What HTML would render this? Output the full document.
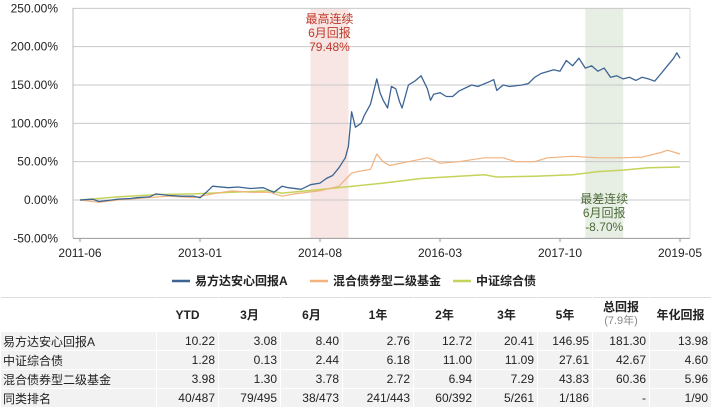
<!DOCTYPE html>
<html><head><meta charset="utf-8"><style>
body{margin:0;width:711px;height:415px;background:#fff;font-family:"Liberation Sans","Noto Sans CJK SC",sans-serif;overflow:hidden;position:relative}
svg text{font-family:"Liberation Sans","Noto Sans CJK SC",sans-serif}
table{position:absolute;left:0;top:297px;width:711px;border-collapse:collapse;font-size:12px;color:#222;table-layout:fixed}
td,th{border:1px solid #fff;padding:0 3px;text-align:right;height:18px;white-space:nowrap;overflow:hidden}
th{height:33px;text-align:center;font-weight:bold;background:#fff;border-left:1px solid #e4e4e4;border-top:1px solid #ddd;padding:0}
tr.r td{background:#f2f2f2}
td.l{text-align:left;padding-left:2px}
</style></head><body>
<svg id="chart" width="711" height="297" style="position:absolute;left:0;top:0"></svg>
<table>
<colgroup><col style="width:156px"><col style="width:62px"><col style="width:62px"><col style="width:62px"><col style="width:71px"><col style="width:62px"><col style="width:62px"><col style="width:55px"><col style="width:57px"><col style="width:62px"></colgroup>
<tr><th style="border-left:none"></th><th>YTD</th><th>3月</th><th>6月</th><th>1年</th><th>2年</th><th>3年</th><th>5年</th><th style="line-height:13px">总回报<br><span style="font-weight:normal;color:#888;font-size:11px">(7.9年)</span></th><th>年化回报</th></tr>
<tr class="r"><td class="l">易方达安心回报A</td><td>10.22</td><td>3.08</td><td>8.40</td><td>2.76</td><td>12.72</td><td>20.41</td><td>146.95</td><td>181.30</td><td>13.98</td></tr>
<tr class="r"><td class="l">中证综合债</td><td>1.28</td><td>0.13</td><td>2.44</td><td>6.18</td><td>11.00</td><td>11.09</td><td>27.61</td><td>42.67</td><td>4.60</td></tr>
<tr class="r"><td class="l">混合债券型二级基金</td><td>3.98</td><td>1.30</td><td>3.78</td><td>2.72</td><td>6.94</td><td>7.29</td><td>43.83</td><td>60.36</td><td>5.96</td></tr>
<tr class="r"><td class="l">同类排名</td><td>40/487</td><td>79/495</td><td>38/473</td><td>241/443</td><td>60/392</td><td>5/261</td><td>1/186</td><td>-</td><td>1/90</td></tr>
</table>
<script>
const yTicks=[250,200,150,100,50,0,-50];
const xTickLabels=["2011-06","2013-01","2014-08","2016-03","2017-10","2019-05"];
const xTickMonths=[0,19,38,57,76,95];
const fundMonths=[0,2,3,5,6,8,9,11,12,14,16,18,19,20,21,23.5,25,27,29,30.7,32,33,35,36.5,38,39,40,41,42,42.5,43,43.6,44.5,45,46,47,47.5,48,48.7,49.3,50,50.6,51,52,53,54,55,55.5,56,57,58,59,60,62,63,65,65.5,66,67,68,70,71,72,73,75,76,77,78,79,80,81,82,83,84,85,86,87,88,89,90,91,92,93,94,94.5,95];
const fundVals=[0,1,-2,0,1,2,3,4,8,6,5,5,3,10,18,16,17,15,16,10,18,16,14,20,22,28,32,42,55,70,115,95,100,110,125,158,140,130,120,148,145,128,120,150,155,162,145,130,138,140,135,135,142,150,148,155,157,143,150,148,150,152,160,165,170,168,182,175,185,172,175,168,172,160,162,158,160,156,160,158,155,165,175,185,192,185,180];
const peerMonths=[0,3,6,9,14,18,21,24,27,30,32,34,38,41,43,44,46,47,48,49,52,55,56,57,60,64,67,69,72,74,78,82,86,89,92,93,95];
const peerVals=[0,-3,0,2,5,3,8,12,10,10,5,8,12,18,35,37,40,60,50,45,50,55,52,48,50,55,55,50,50,55,57,55,55,56,62,65,60];
const idxMonths=[0,6,12,18,24,30,32,36,42,48,54,58,64,66,72,78,82,86,90,95];
const idxVals=[0,4,7,8,10,12,9,12,17,22,28,30,33,30,31,33,37,39,42,43];
const NS="http://www.w3.org/2000/svg";
const svg=document.getElementById('chart');
const X=m=>80+m*600/95;
const Y=v=>200-v*0.7667;
function mk(t,a,p){const e=document.createElementNS(NS,t);for(const k in a)e.setAttribute(k,a[k]);(p||svg).appendChild(e);return e;}
let b1=mk('rect',{x:X(36.5),y:8,width:X(42.5)-X(36.5),height:230,fill:'#f7e6e3'});


let b2=mk('rect',{x:X(80),y:8,width:X(86)-X(80),height:230,fill:'#e7eee3'});


yTicks.forEach(v=>{
 let g=mk('line',{x1:73,x2:690,y1:Y(v),y2:Y(v),stroke:v==-50?'#999':'#c8c8c8','stroke-width':1});
 
 
 let t=mk('text',{x:58,y:Y(v)+4,'text-anchor':'end','font-size':12,fill:'#222'});t.textContent=v.toFixed(2)+'%';
 
 
});
let ax=mk('line',{x1:73,x2:73,y1:8,y2:238,stroke:'#bbb'});


let rx=mk('line',{x1:690,x2:690,y1:8,y2:238,stroke:'#ddd'});


xTickMonths.forEach((m,i)=>{
 let l=mk('line',{x1:X(m),x2:X(m),y1:238,y2:242,stroke:'#999'});
 
 
 let t=mk('text',{x:X(m),y:257,'text-anchor':'middle','font-size':12,fill:'#222'});t.textContent=xTickLabels[i];
 
 
});
function series(ms,vs,c,n,w){
 let d=ms.map((m,i)=>(i?'L':'M')+X(m).toFixed(1)+','+Y(vs[i]).toFixed(1)).join('');
 let p=mk('path',{d:d,fill:'none',stroke:c,'stroke-width':w,'stroke-linejoin':'round'});
 
 
}
series(idxMonths,idxVals,'#c5d35a','index-line',1.5);
series(peerMonths,peerVals,'#f2b27e','peer-line',1.2);
series(fundMonths,fundVals,'#3d6594','fund-line',1.3);
function label(lines,cx,y0,c,n){lines.forEach((s,i)=>{let t=mk('text',{x:cx,y:y0+i*14,'text-anchor':'middle','font-size':12,fill:c});t.textContent=s;
 
 });}
label(["最高连续","6月回报","79.48%"],X(39.5),23,'#c0392b','best-period-label');
label(["最差连续","6月回报","-8.70%"],X(83),203,'#4d6b3a','worst-period-label');
const leg=[["易方达安心回报A",'#3d6594',172],["混合债券型二级基金",'#f2b27e',310],["中证综合债",'#c5d35a',453]];
leg.forEach(([s,c,x])=>{
 let l=mk('line',{x1:x,x2:x+18,y1:281,y2:281,stroke:c,'stroke-width':2.5});
 
 
 let t=mk('text',{x:x+23,y:285,'font-size':12,'font-weight':'bold',fill:'#222'});t.textContent=s;
 
 
});
</script>
</body></html>
